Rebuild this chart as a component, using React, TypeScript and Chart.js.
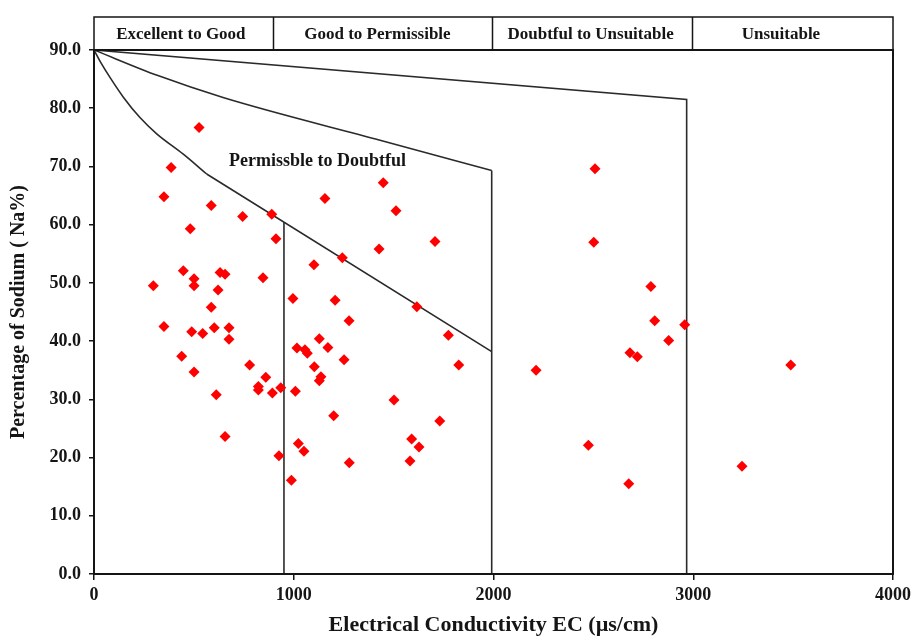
import React, { useEffect, useRef } from "react";
import { Chart, registerables } from "chart.js";

Chart.register(...registerables);

// Sample points: Electrical Conductivity (µs/cm) and Percentage of Sodium (Na%)
const ecValues = [
  526, 386, 350, 587, 744, 890, 482, 911, 1156, 1448, 1512, 1707, 1427, 1243, 1101,
  447, 501, 631, 656, 297, 501, 621, 846, 996, 1207, 587, 1616, 1277, 350, 489,
  544, 602, 676, 676, 1774, 1128, 1016, 1056, 1068, 1171, 439, 1252, 1826, 1103, 501,
  779, 860, 1136, 1128, 823, 823, 893, 935, 1008, 612, 1502, 1731, 1200, 656, 1023,
  1051, 926, 1590, 1627, 1582, 1278, 988, 2508, 2502, 2788, 2807, 2957, 2877, 2683, 2720,
  2213, 3488, 2475, 3244, 2677,
];
const naValues = [
  76.7, 69.8, 64.8, 63.3, 61.4, 61.8, 59.3, 57.6, 64.5, 67.2, 62.4, 57.1, 55.8, 54.3, 53.1,
  52.1, 50.7, 51.8, 51.5, 49.5, 49.5, 48.8, 50.9, 47.3, 47.0, 45.8, 45.9, 43.5, 42.5, 41.6,
  41.3, 42.3, 42.3, 40.3, 41.0, 40.4, 38.8, 38.5, 37.9, 38.9, 37.4, 36.8, 35.9, 35.6, 34.7,
  35.9, 33.8, 33.9, 33.2, 32.2, 31.6, 31.1, 32.0, 31.4, 30.8, 29.9, 26.3, 27.2, 23.6, 22.4,
  21.1, 20.3, 23.2, 21.8, 19.4, 19.1, 16.1, 69.6, 57.0, 49.4, 43.5, 42.8, 40.1, 38.0, 37.3,
  35.0, 35.9, 22.1, 18.5, 15.5,
];

// Wilcox diagram boundary lines
const curveEC = [0, 35, 80, 147, 230, 314, 447, 564];
const curveNa = [90, 87.8, 85.3, 81.9, 78.4, 75.6, 72.1, 68.7];
const lowerLineEC = [564, 1991];
const lowerLineNa = [68.7, 38.2];
const verticalEC = [951, 951];
const verticalNa = [0, 60.4];
const middleEC = [0, 320, 650, 1432, 1991];
const middleNa = [90, 85.6, 81.8, 74.5, 69.3];
const middleDropEC = [1991, 1991];
const middleDropNa = [69.3, 0];
const upperEC = [0, 2967, 2967];
const upperNa = [90, 81.5, 0];

// Header classes
const headerLabels = ["Excellent to Good", "Good to Permissible", "Doubtful to Unsuitable", "Unsuitable"];
const headerBounds = [0, 896, 1991, 2995, 4000];
const headerCenters = [435, 1419, 2486, 3439];

const zoneLabel = "Permissble to Doubtful";
const zoneLabelAt = [1119, 70.8];

const xTicks = [0, 1000, 2000, 3000, 4000];
const yTicks = [0, 10, 20, 30, 40, 50, 60, 70, 80, 90];

const FONT = "'Liberation Serif', 'Times New Roman', serif";
const INK = "#151515";

const toPts = (xs: number[], ys: number[]) => xs.map((x, i) => ({ x, y: ys[i] }));

const lineDs = (label: string, xs: number[], ys: number[], smooth = false) => ({
  type: "scatter" as const,
  label,
  data: toPts(xs, ys),
  showLine: true,
  borderColor: "#2a2a2a",
  borderWidth: 1.6,
  pointRadius: 0,
  pointHoverRadius: 0,
  tension: smooth ? 0.4 : 0,
  cubicInterpolationMode: smooth ? "monotone" : "default",
  fill: false,
});

const overlay = {
  id: "overlay",
  afterDraw(chart: any) {
    const { ctx, chartArea, scales } = chart;
    const x = scales.x;
    const y = scales.y;
    ctx.save();
    // plot frame
    ctx.strokeStyle = INK;
    ctx.lineWidth = 2;
    ctx.strokeRect(chartArea.left, chartArea.top, chartArea.right - chartArea.left, chartArea.bottom - chartArea.top);

    // header band
    const top = 17;
    const bottom = chartArea.top;
    const x0 = x.getPixelForValue(headerBounds[0]);
    const x1 = x.getPixelForValue(headerBounds[headerBounds.length - 1]);
    ctx.lineWidth = 1.5;
    ctx.strokeRect(x0, top, x1 - x0, bottom - top);
    ctx.beginPath();
    for (let i = 1; i < headerBounds.length - 1; i++) {
      const px = Math.round(x.getPixelForValue(headerBounds[i])) + 0.5;
      ctx.moveTo(px, top);
      ctx.lineTo(px, bottom);
    }
    ctx.stroke();
    ctx.fillStyle = INK;
    ctx.font = `bold 17px ${FONT}`;
    ctx.textAlign = "center";
    ctx.textBaseline = "middle";
    headerLabels.forEach((t, i) => {
      ctx.fillText(t, x.getPixelForValue(headerCenters[i]), (top + bottom) / 2 + 1);
    });

    // zone label
    ctx.font = `bold 18px ${FONT}`;
    ctx.fillText(zoneLabel, x.getPixelForValue(zoneLabelAt[0]), y.getPixelForValue(zoneLabelAt[1]));
    ctx.restore();
  },
};

export default function App() {
  const ref = useRef<HTMLCanvasElement | null>(null);

  useEffect(() => {
    if (!ref.current) return;
    const chart = new Chart(ref.current, {
      type: "scatter",
      data: {
        datasets: [
          {
            label: "Samples",
            data: toPts(ecValues, naValues),
            pointStyle: "rectRot",
            pointRadius: 5.5,
            pointHoverRadius: 5.5,
            backgroundColor: "#ff0000",
            borderColor: "#ff0000",
            borderWidth: 0,
            showLine: false,
          },
          lineDs("curve", curveEC, curveNa, true),
          lineDs("lower", lowerLineEC, lowerLineNa),
          lineDs("vertical", verticalEC, verticalNa),
          lineDs("middle", middleEC, middleNa, true),
          lineDs("middleDrop", middleDropEC, middleDropNa),
          lineDs("upper", upperEC, upperNa),
        ] as any,
      },
      options: {
        animation: false,
        responsive: true,
        maintainAspectRatio: false,
        layout: { padding: { top: 50, right: 27, left: 0, bottom: 0 } },
        plugins: {
          legend: { display: false },
          tooltip: { enabled: false },
        },
        scales: {
          x: {
            type: "linear",
            min: 0,
            max: 4000,
            afterBuildTicks: (s: any) => {
              s.ticks = xTicks.map((v) => ({ value: v }));
            },
            afterFit: (s: any) => {
              s.height = 65;
            },
            ticks: {
              color: INK,
              font: { family: FONT, size: 18, weight: "bold" },
              padding: 5,
              maxRotation: 0,
              callback: (v: any) => String(v),
            },
            grid: { drawOnChartArea: false, drawTicks: true, tickLength: 6, color: INK, lineWidth: 1.5 },
            border: { display: true, color: INK, width: 2 },
            title: {
              display: true,
              text: "Electrical Conductivity EC (µs/cm)",
              color: INK,
              font: { family: FONT, size: 22, weight: "bold" },
              padding: { top: 0, bottom: 0 },
            },
          },
          y: {
            type: "linear",
            min: 0,
            max: 90,
            afterBuildTicks: (s: any) => {
              s.ticks = yTicks.map((v) => ({ value: v }));
            },
            afterFit: (s: any) => {
              s.width = 94;
            },
            ticks: {
              color: INK,
              font: { family: FONT, size: 18, weight: "bold" },
              padding: 8,
              callback: (v: any) => Number(v).toFixed(1),
            },
            grid: { drawOnChartArea: false, drawTicks: true, tickLength: 5, color: INK, lineWidth: 1.5 },
            border: { display: true, color: INK, width: 2 },
            title: {
              display: true,
              text: "Percentage of Sodium ( Na%)",
              color: INK,
              font: { family: FONT, size: 20, weight: "bold" },
              padding: { top: 7, bottom: 0 },
            },
          },
        },
      } as any,
      plugins: [overlay],
    });
    return () => chart.destroy();
  }, []);

  return (
    <div style={{ position: "fixed", left: 0, top: 0, width: 920, height: 639, background: "#fff" }}>
      <canvas ref={ref} />
    </div>
  );
}
